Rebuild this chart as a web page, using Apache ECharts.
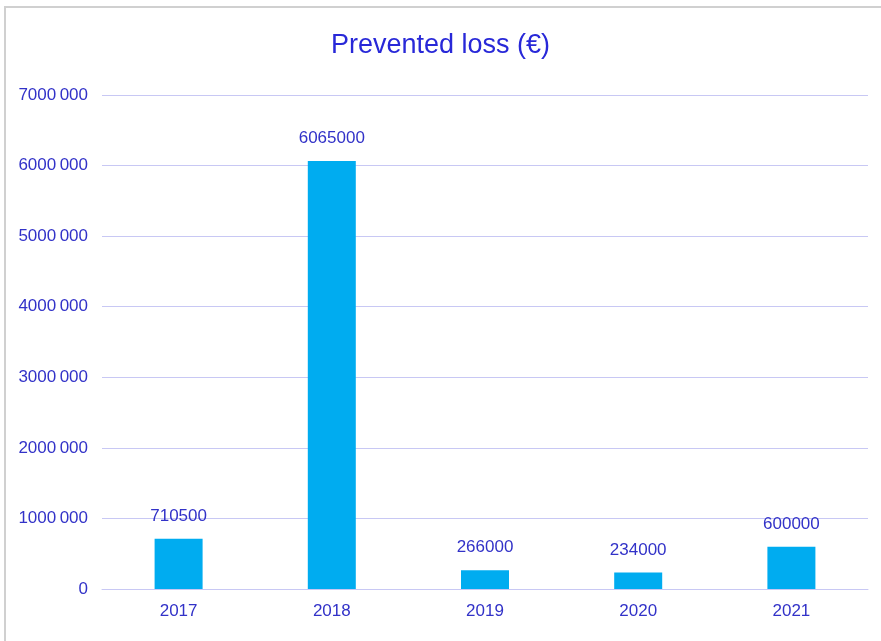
<!DOCTYPE html>
<html>
<head>
<meta charset="utf-8">
<script src="https://cdn.jsdelivr.net/npm/echarts@6/dist/echarts.min.js"></script>
<style>
  html, body { margin: 0; padding: 0; background: #fff; }
  #echart { width: 881px; height: 641px; }
</style>
</head>
<body>
<div id="echart"></div>
<script>
const years = ["2017", "2018", "2019", "2020", "2021"];
const preventedLoss = [710500, 6065000, 266000, 234000, 600000];
const yTicks = [0, 1000000, 2000000, 3000000, 4000000, 5000000, 6000000, 7000000];

const textColor = "#3232c8";
const fontName = "'Liberation Sans Narrow', 'Liberation Sans', Arial, sans-serif";

const chart = echarts.init(document.getElementById("echart"));
chart.setOption({
  animation: false,
  graphic: [
    {
      type: "rect",
      shape: { x: 5, y: 7, width: 900, height: 700 },
      style: { fill: "none", stroke: "#d0d0d0", lineWidth: 2 },
      silent: true,
    },
  ],
  title: {
    text: "Prevented loss (€)",
    left: "center",
    top: 27,
    textStyle: {
      color: "#2828d8",
      fontFamily: fontName,
      fontWeight: "normal",
      fontSize: 27,
    },
  },
  grid: { left: 102, right: 13, top: 95, bottom: 52 },
  xAxis: {
    type: "category",
    data: years,
    axisLine: { lineStyle: { color: "#c8c8f4" } },
    axisTick: { show: false },
    axisLabel: {
      color: textColor,
      fontFamily: fontName,
      fontSize: 17,
      margin: 14,
    },
  },
  yAxis: {
    type: "value",
    min: yTicks[0],
    max: yTicks[yTicks.length - 1],
    interval: 1000000,
    axisLine: { show: false },
    axisTick: { show: false },
    splitLine: { lineStyle: { color: "#c8c8f4", width: 1 } },
    axisLabel: {
      color: textColor,
      fontFamily: fontName,
      fontSize: 17,
      margin: 14,
      formatter: (v) => {
        if (v === 0) return "0";
        const s = String(v);
        return s.slice(0, s.length - 3) + "\u2009" + s.slice(-3);
      },
    },
  },
  series: [
    {
      type: "bar",
      data: preventedLoss,
      barWidth: 48,
      itemStyle: { color: "#00acf0" },
      label: {
        show: true,
        position: "top",
        distance: 14,
        color: textColor,
        fontFamily: fontName,
        fontSize: 17,
      },
    },
  ],
});
</script>
</body>
</html>
